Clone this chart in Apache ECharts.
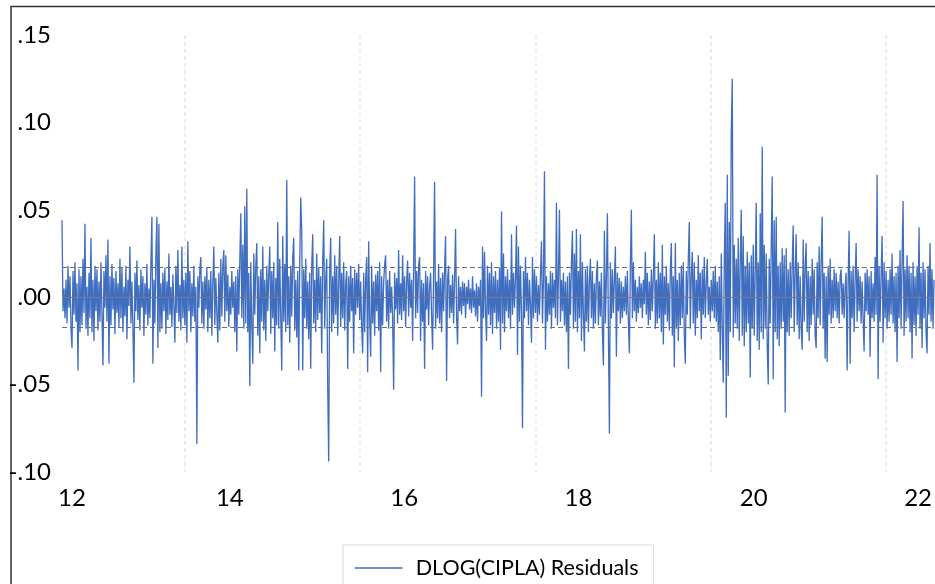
<!DOCTYPE html>
<html>
<head>
<meta charset="utf-8">
<script src="https://cdn.jsdelivr.net/npm/echarts@6/dist/echarts.min.js"></script>
<style>
  html, body { margin: 0; padding: 0; background: #fff; }
  #chart { width: 935px; height: 584px; }
</style>
</head>
<body>
<div id="chart"></div>
<script>
const residuals = [
  44,-8,5,-12,10,-15,18,-6,12,-18,-29,15,-10,20,-14,8,-42,16,-20,12,
  -16,22,-9,42,-18,6,-22,14,-12,34,-20,10,-25,18,-8,16,-19,9,-14,20,
  -10,-39,15,-6,24,-14,33,-38,12,-16,19,-7,11,-21,15,-9,8,-17,22,-12,
  17,-20,6,-11,18,-24,10,-5,29,-15,9,-18,-49,14,-8,21,-13,7,-19,16,
  -6,12,-22,8,-10,19,-16,5,-12,20,46,-38,10,-15,24,46,-29,42,-20,8,
  -18,14,-8,17,-21,9,-13,25,-10,6,-17,13,-5,-26,18,-9,27,-14,7,-19,
  29,-12,10,-16,14,-26,32,-8,15,-20,8,-11,18,-14,6,-84,12,-6,16,23,
  -15,9,-18,12,-7,17,-20,10,-12,15,-22,8,29,-16,11,-9,-26,14,-19,22,
  -11,18,27,-14,24,-8,13,-17,6,-10,15,-6,9,-20,12,-31,16,-10,21,48,
  -12,30,-18,52,-15,62,-20,14,-51,20,-16,-38,25,-10,18,31,-22,12,-32,16,
  -14,29,-19,10,-25,18,-8,13,29,-21,15,-12,20,-31,11,-16,43,-18,22,-12,
  -42,35,-14,19,-20,67,-16,12,-26,18,-11,23,34,-19,10,-23,15,-42,20,57,
  38,-42,16,-12,22,-18,9,-24,14,-41,18,36,-15,10,-20,25,-13,17,-9,12,
  -32,20,44,-18,10,22,-51,-94,16,34,-20,12,-15,24,-10,18,-22,9,35,-17,
  14,-12,20,-19,8,15,-41,12,-14,18,-8,11,-32,16,-10,14,-6,19,-13,9,
  -17,-32,14,-20,10,23,-43,32,-12,-34,18,-15,9,-22,13,-8,15,-19,20,-43,
  12,-16,8,19,24,-14,10,-18,15,-9,6,-12,-53,14,-7,11,-15,27,-10,8,
  -13,24,-8,12,-17,9,21,-11,14,-6,10,-25,16,69,-12,15,-9,18,23,-25,
  10,-14,8,-41,15,-7,12,-16,6,14,-10,-30,13,66,-18,9,-12,19,-15,11,
  -20,14,-8,16,35,-48,10,18,-12,7,-9,13,-15,10,39,-11,-27,12,-8,6,
  -10,9,-5,8,-12,6,-4,10,-7,5,-9,12,-6,4,-11,8,-14,6,-5,10,
  -57,29,-12,26,-8,-25,18,-10,14,-16,20,-21,12,-9,15,-18,10,-14,17,-30,
  49,-15,25,-20,12,-8,16,-12,10,-18,36,-10,14,-6,11,41,-33,29,-14,18,
  -10,-75,15,-12,23,-8,14,-16,10,-5,-26,23,-12,16,-9,12,-14,7,-10,13,
  32,-15,10,72,-30,12,-14,8,-10,15,-18,14,-6,10,-12,54,-16,12,50,-14,
  10,-8,14,-16,9,-20,12,-41,14,-10,20,38,-18,25,-14,39,-20,15,-12,36,
  -25,20,-10,-31,16,-14,18,-20,10,22,-12,15,-18,8,-15,12,21,-16,9,-11,
  14,-20,-39,38,-15,12,48,-18,-78,20,-12,16,-9,10,29,-34,14,-8,11,-15,
  9,-12,6,-8,12,-10,15,-14,-32,18,50,-12,20,-8,10,-14,6,-9,12,-6,
  8,-12,10,-4,26,-10,14,-16,9,-13,16,-8,12,36,-18,10,-15,20,-12,14,
  -20,30,-27,12,-10,18,-14,8,-19,15,31,-22,12,-40,31,-18,10,-25,14,-16,
  18,-12,20,-22,-38,15,-10,22,43,-18,12,26,-15,20,-22,10,-12,24,-8,14,
  -24,16,-10,23,-12,8,22,-10,6,-14,10,-8,15,-12,18,-14,9,-20,12,-36,
  25,-18,-49,20,54,-69,70,-45,43,-20,94,125,-23,30,-15,22,-18,34,-25,20,
  50,-22,35,-28,18,-20,26,-15,20,-46,24,-18,30,-22,15,54,-25,20,-30,48,
  -20,86,-24,30,-18,25,-28,-50,22,-15,28,69,-47,44,-20,46,-24,18,-28,20,
  -18,28,-14,24,-66,28,-20,16,-22,20,-12,18,41,-20,14,36,-16,20,-24,12,
  -18,-30,33,-14,18,31,-20,15,-25,12,-16,22,-10,16,-22,-29,20,-12,29,-16,
  20,46,-18,14,-35,12,-37,18,-10,22,-15,10,-12,16,-8,14,-12,9,-15,12,
  16,-10,8,-12,6,14,-42,10,38,-38,15,-12,18,-20,10,31,-14,16,-8,12,
  -15,9,-12,-31,14,-8,16,-10,12,-34,15,-12,8,-14,23,-10,70,-47,18,-14,
  12,35,-26,20,-12,15,-18,10,-14,16,-10,25,-15,12,-20,14,-37,18,-12,27,
  -18,20,55,-22,16,-14,24,-12,18,-20,14,-35,20,-16,12,-22,18,-10,40,-18,
  14,-29,20,-12,16,-20,-32,18,-10,31,-14,16,-18,10
];

// sample period in fractional years
const startYear = 2012.598;
const endYear = 2022.547;

// mean and +/- 1 s.d. reference lines (thousandths)
const refLevels = [0, 17, -17];

// x-axis: grid lines at even years, labels near mid-year
const gridYears = [2014, 2016, 2018, 2020, 2022];
const labelYears = [2012.712, 2014.513, 2016.503, 2018.49, 2020.49, 2022.365];

const step = (endYear - startYear) / (residuals.length - 1);
const seriesData = residuals.map((v, i) => [startYear + i * step, v]);

const chart = echarts.init(document.getElementById('chart'), null, { renderer: 'canvas' });

const FONT = 'Lato';
const BLUE = '#3f6dbf';

const option = {
  backgroundColor: '#fff',
  animation: false,
  grid: { left: 62, right: 0, top: 35, bottom: 112 },
  xAxis: {
    type: 'value',
    min: startYear,
    max: endYear,
    axisLine: { show: false },
    axisTick: { show: false, customValues: gridYears },
    splitLine: {
      show: true,
      lineStyle: { color: '#e8e8e8', type: [4, 3], width: 1.5 }
    },
    axisLabel: {
      customValues: labelYears,
      formatter: v => String(Math.floor(v)).slice(2),
      color: '#000',
      fontFamily: FONT,
      fontSize: 24,
      margin: 14
    }
  },
  yAxis: {
    type: 'value',
    min: -100,
    max: 150,
    interval: 50,
    axisLine: { show: false },
    axisTick: { show: false },
    splitLine: { show: false },
    axisLabel: {
      formatter: v => (v < 0 ? '-' : '') + (Math.abs(v) / 1000).toFixed(2).replace(/^0/, ''),
      color: '#000',
      fontFamily: FONT,
      fontSize: 24,
      margin: 11
    }
  },
  legend: {
    left: 343,
    top: 545,
    padding: [12, 15, 30, 11],
    itemWidth: 48,
    itemHeight: 20,
    borderColor: '#d9d9d9',
    borderWidth: 1,
    itemStyle: { opacity: 0 },
    lineStyle: { color: BLUE, width: 1.5 },
    textStyle: { color: '#000', fontFamily: FONT, fontSize: 21.5, padding: [0, 0, 0, 8] },
    data: ['DLOG(CIPLA) Residuals']
  },
  series: [{
    name: 'DLOG(CIPLA) Residuals',
    type: 'line',
    data: seriesData,
    symbol: 'none',
    lineStyle: { color: BLUE, width: 1.3 },
    itemStyle: { color: BLUE },
    markLine: {
      silent: true,
      symbol: 'none',
      label: { show: false },
      data: refLevels.map((y, i) => ({
        yAxis: y,
        lineStyle: {
          color: i === 0 ? '#7a7a7a' : '#6e6e6e',
          width: 1,
          type: i === 0 ? 'solid' : [5, 3]
        }
      }))
    }
  }],
  graphic: [{
    type: 'polyline',
    shape: { points: [[11, 584], [11, 6.5], [935, 6.5]] },
    style: { stroke: '#333', lineWidth: 1.5, fill: null },
    silent: true
  }]
};

chart.setOption(option);
</script>
</body>
</html>
